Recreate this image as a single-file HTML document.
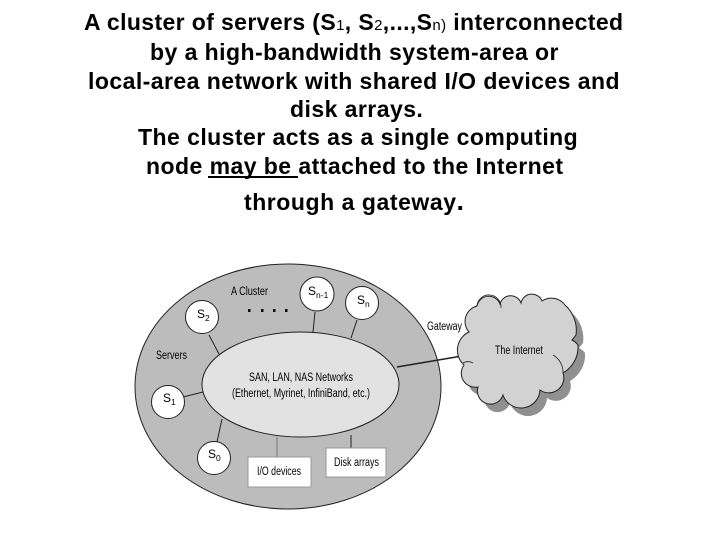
<!DOCTYPE html>
<html><head><meta charset="utf-8"><style>
html,body{margin:0;padding:0;background:#fff;width:720px;height:540px;overflow:hidden}
svg{display:block}
.t{font:bold 23px "Liberation Sans",sans-serif;fill:#000;letter-spacing:.45px}
.s{font-size:15px;font-weight:normal}
.d{font:11.5px "Liberation Sans",sans-serif;fill:#000}
.n{font:12px "Liberation Sans",sans-serif;fill:#000}
.sub{font-size:8.5px}
</style></head><body>
<svg width="720" height="540" viewBox="0 0 720 540" xmlns="http://www.w3.org/2000/svg">
<defs><filter id="b" x="-5%" y="-5%" width="110%" height="110%"><feGaussianBlur stdDeviation="0.22"/></filter>
<path id="c" d="M469 332 A16 16 0 0 1 477 306 A12 12 0 0 1 500 304 A11 11 0 0 1 521 303 A11 11 0 0 1 542 301 A17 17 0 0 1 565 305 A34 34 0 0 1 576 335 L572 340 A17 17 0 0 1 578 345 A30 30 0 0 1 563 373 A15 15 0 0 1 540 390 A19 19 0 0 1 503 395 A13 13 0 0 1 478 387 A14 14 0 0 1 464 365 A20 20 0 0 1 469 332 Z"/></defs>
<text x="84" y="30" class="t" style="letter-spacing:.38px">A cluster of servers (S<tspan class="s">1</tspan>, S<tspan class="s">2</tspan>,...,S<tspan class="s">n)</tspan> interconnected</text>
<text x="150" y="60" class="t">by a high-bandwidth system-area or</text>
<text x="88" y="89" class="t">local-area network with shared I/O devices and</text>
<text x="290" y="117" class="t">disk arrays.</text>
<text x="138" y="145" class="t">The cluster acts as a single computing</text>
<text x="146" y="174" class="t">node may be attached to the Internet</text>
<rect x="208" y="176" width="90" height="2" fill="#000"/>
<text x="244" y="210" class="t" style="letter-spacing:.55px">through a gateway<tspan font-size="27">.</tspan></text>
<g filter="url(#b)">
<ellipse cx="288" cy="386.5" rx="153" ry="122.5" fill="#bcbcbc" stroke="#222" stroke-width="1"/>
<g stroke="#222" stroke-width="1" fill="none">
<path d="M209 335 L219 354M315 312 L313 332M357 320 L351 338M183 397 L203 392M222 419 L217 442M351 435 L351 448"/>
<path d="M277 437 L277 457" stroke="#777"/>
<path d="M397 367 L462 356" stroke-width="1.5"/>
</g>
<ellipse cx="300.5" cy="384.5" rx="98.5" ry="52.5" fill="#e2e2e2" stroke="#222"/>
<g fill="#fff" stroke="#222">
<circle cx="202" cy="317" r="16.5"/><circle cx="317" cy="294" r="17"/><circle cx="362" cy="303" r="16.5"/><circle cx="168" cy="402" r="16.5"/><circle cx="214" cy="458" r="16.5"/>
</g>
<rect x="248" y="457" width="63" height="30" fill="#fff" stroke="#999"/>
<rect x="326" y="448" width="60" height="29" fill="#fff" stroke="#999"/>
<g fill="#111"><rect x="248" y="309" width="2.5" height="3"/><rect x="261" y="309" width="2.5" height="3"/><rect x="273" y="309" width="2.5" height="3"/><rect x="285" y="309" width="2.5" height="3"/></g>
<use href="#c" x="7" y="8" fill="#909090"/>
<use href="#c" fill="#d2d2d2" stroke="#222"/>
<path d="M553 355 A20 20 0 0 1 563 373M463 363 A10 10 0 0 1 473 363M477 306 A12 12 0 0 1 501 308" fill="none" stroke="#222" stroke-width=".8"/>
<text class="d" x="231" y="295" textLength="37" lengthAdjust="spacingAndGlyphs">A Cluster</text>
<text class="d" x="156" y="359" textLength="31" lengthAdjust="spacingAndGlyphs">Servers</text>
<text class="d" x="427" y="330" textLength="35" lengthAdjust="spacingAndGlyphs">Gateway</text>
<text class="d" x="495" y="354" textLength="48" lengthAdjust="spacingAndGlyphs">The Internet</text>
<text class="d" x="249" y="381" textLength="104" lengthAdjust="spacingAndGlyphs">SAN, LAN, NAS Networks</text>
<text class="d" x="232" y="397" textLength="138" lengthAdjust="spacingAndGlyphs">(Ethernet, Myrinet, InfiniBand, etc.)</text>
<text class="d" x="257" y="475" textLength="44" lengthAdjust="spacingAndGlyphs">I/O devices</text>
<text class="d" x="334" y="466" textLength="45" lengthAdjust="spacingAndGlyphs">Disk arrays</text>
<text class="n" x="197" y="318">S<tspan class="sub" dy="3">2</tspan></text>
<text class="n" x="308" y="295">S<tspan class="sub" dy="3">n-1</tspan></text>
<text class="n" x="357" y="304">S<tspan class="sub" dy="3">n</tspan></text>
<text class="n" x="163" y="402">S<tspan class="sub" dy="3">1</tspan></text>
<text class="n" x="208" y="458">S<tspan class="sub" dy="3">0</tspan></text>
</g>
</svg>
</body></html>
